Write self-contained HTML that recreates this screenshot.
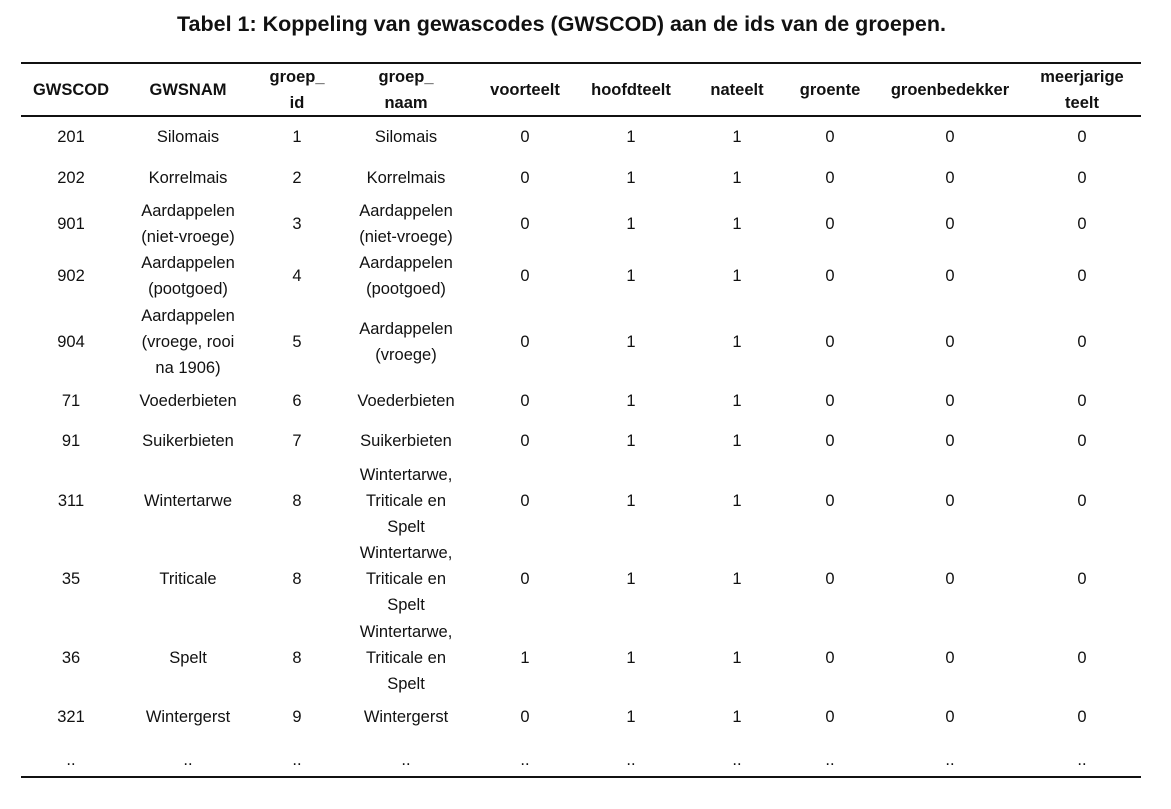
<!DOCTYPE html>
<html><head><meta charset="utf-8">
<style>
body{margin:0;width:1171px;height:809px;background:#fff;position:relative;overflow:hidden;font-family:"Liberation Sans",sans-serif;color:#111}
.c{position:absolute;transform:translate(-50%,-50%);text-align:center;font-size:16.5px;line-height:26px;white-space:nowrap}
.h{font-weight:bold}
.ln{position:absolute;left:21px;width:1120px;height:2px;background:#111}
#title{position:absolute;left:0;width:1123px;top:12px;text-align:center;font-weight:bold;font-size:21.5px}
</style></head><body>
<div id="title">Tabel 1: Koppeling van gewascodes (GWSCOD) aan de ids van de groepen.</div>
<div class="ln" style="top:62px"></div>
<div class="ln" style="top:115px"></div>
<div class="ln" style="top:776px"></div>
<script>
const xs=[71,188,297,406,525,631,737,830,950,1082];
const headers=["GWSCOD","GWSNAM","groep_<br>id","groep_<br>naam","voorteelt","hoofdteelt","nateelt","groente","groenbedekker","meerjarige<br>teelt"];
const ys=[137,178,224,276,342,401,441,501,579,658,717,760];
const rows=[
["201","Silomais","1","Silomais","0","1","1","0","0","0"],
["202","Korrelmais","2","Korrelmais","0","1","1","0","0","0"],
["901","Aardappelen<br>(niet-vroege)","3","Aardappelen<br>(niet-vroege)","0","1","1","0","0","0"],
["902","Aardappelen<br>(pootgoed)","4","Aardappelen<br>(pootgoed)","0","1","1","0","0","0"],
["904","Aardappelen<br>(vroege, rooi<br>na 1906)","5","Aardappelen<br>(vroege)","0","1","1","0","0","0"],
["71","Voederbieten","6","Voederbieten","0","1","1","0","0","0"],
["91","Suikerbieten","7","Suikerbieten","0","1","1","0","0","0"],
["311","Wintertarwe","8","Wintertarwe,<br>Triticale en<br>Spelt","0","1","1","0","0","0"],
["35","Triticale","8","Wintertarwe,<br>Triticale en<br>Spelt","0","1","1","0","0","0"],
["36","Spelt","8","Wintertarwe,<br>Triticale en<br>Spelt","1","1","1","0","0","0"],
["321","Wintergerst","9","Wintergerst","0","1","1","0","0","0"],
["..","..","..","..","..","..","..","..","..",".."]];
headers.forEach((t,i)=>{
 const d=document.createElement('div');d.className='c h';d.innerHTML=t;
 d.style.left=xs[i]+'px';d.style.top='90px';
 
 
 document.body.appendChild(d);
});
rows.forEach((r,ri)=>r.forEach((t,i)=>{
 const d=document.createElement('div');d.className='c';d.innerHTML=t;
 d.style.left=xs[i]+'px';d.style.top=ys[ri]+'px';
 
 
 document.body.appendChild(d);
}));
</script>
</body></html>
